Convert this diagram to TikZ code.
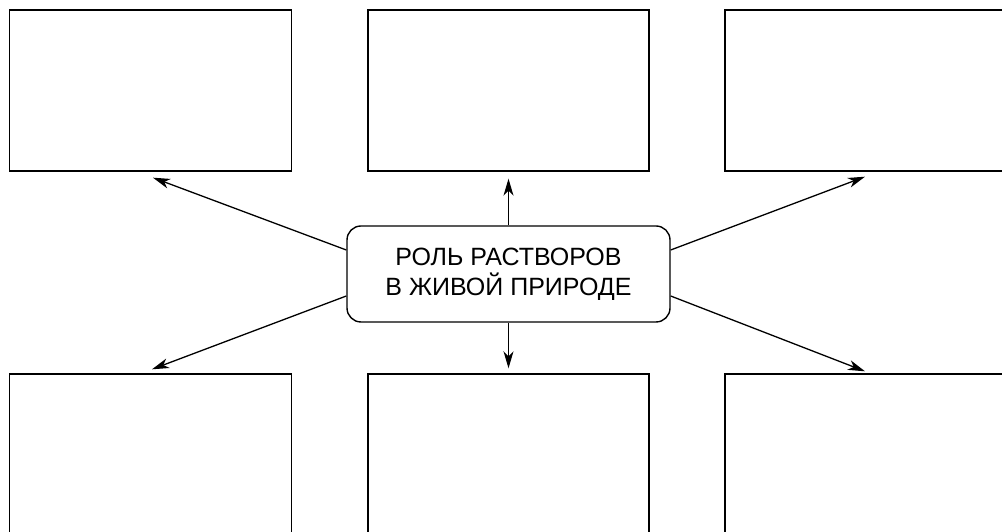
\documentclass[tikz,border=0pt]{standalone}
\usepackage{fontspec}
\setmainfont{Liberation Sans}
\usetikzlibrary{arrows.meta}
\tikzset{
  blank/.style={draw=black, line width=1.4pt, rectangle, inner sep=0pt},
  hub/.style={draw=black, line width=1.4pt, rectangle, rounded corners=14pt, inner sep=0pt,
    minimum width=323pt, minimum height=96pt, align=center,
    font=\fontsize{25}{30}\selectfont},
  arr/.style={line width=1.3pt, -{Stealth[length=17pt,width=10pt,inset=5pt]}}
}
\begin{document}
\begin{tikzpicture}[x=1pt,y=1pt]
\clip (0,0) rectangle (1002,532);
\useasboundingbox (0,0) rectangle (1002,532);
\fill[white] (0,0) rectangle (1002,532);
% top row
\node[blank, minimum width=282pt, minimum height=161pt] (tl) at (150.5,441.5) {};
\node[blank, minimum width=281pt, minimum height=161pt] (tm) at (508.5,441.5) {};
\node[blank, minimum width=287pt, minimum height=161pt] (tr) at (868.5,441.5) {};
% bottom row
\node[blank, minimum width=282pt, minimum height=171pt] (bl) at (150.5,72.5) {};
\node[blank, minimum width=281pt, minimum height=171pt] (bm) at (508.5,72.5) {};
\node[blank, minimum width=287pt, minimum height=171pt] (br) at (868.5,72.5) {};
% centre
\node[hub] (c) at (508.5,258) {РОЛЬ РАСТВОРОВ\\В ЖИВОЙ ПРИРОДЕ};
% connectors
\draw[arr] (c.north) -- ([yshift=-7pt]tm.south);
\draw[arr] (c.south) -- ([yshift=5pt]bm.north);
\draw[arr] ([yshift=24pt]c.west) -- ([xshift=2.5pt,yshift=-6pt]tl.south);
\draw[arr] ([yshift=-22pt]c.west) -- ([xshift=1.5pt,yshift=4pt]bl.north);
\draw[arr] ([yshift=24pt]c.east) -- ([xshift=-3.5pt,yshift=-5pt]tr.south);
\draw[arr] ([yshift=-22pt]c.east) -- ([xshift=-3.5pt,yshift=2pt]br.north);
\end{tikzpicture}
\end{document}
